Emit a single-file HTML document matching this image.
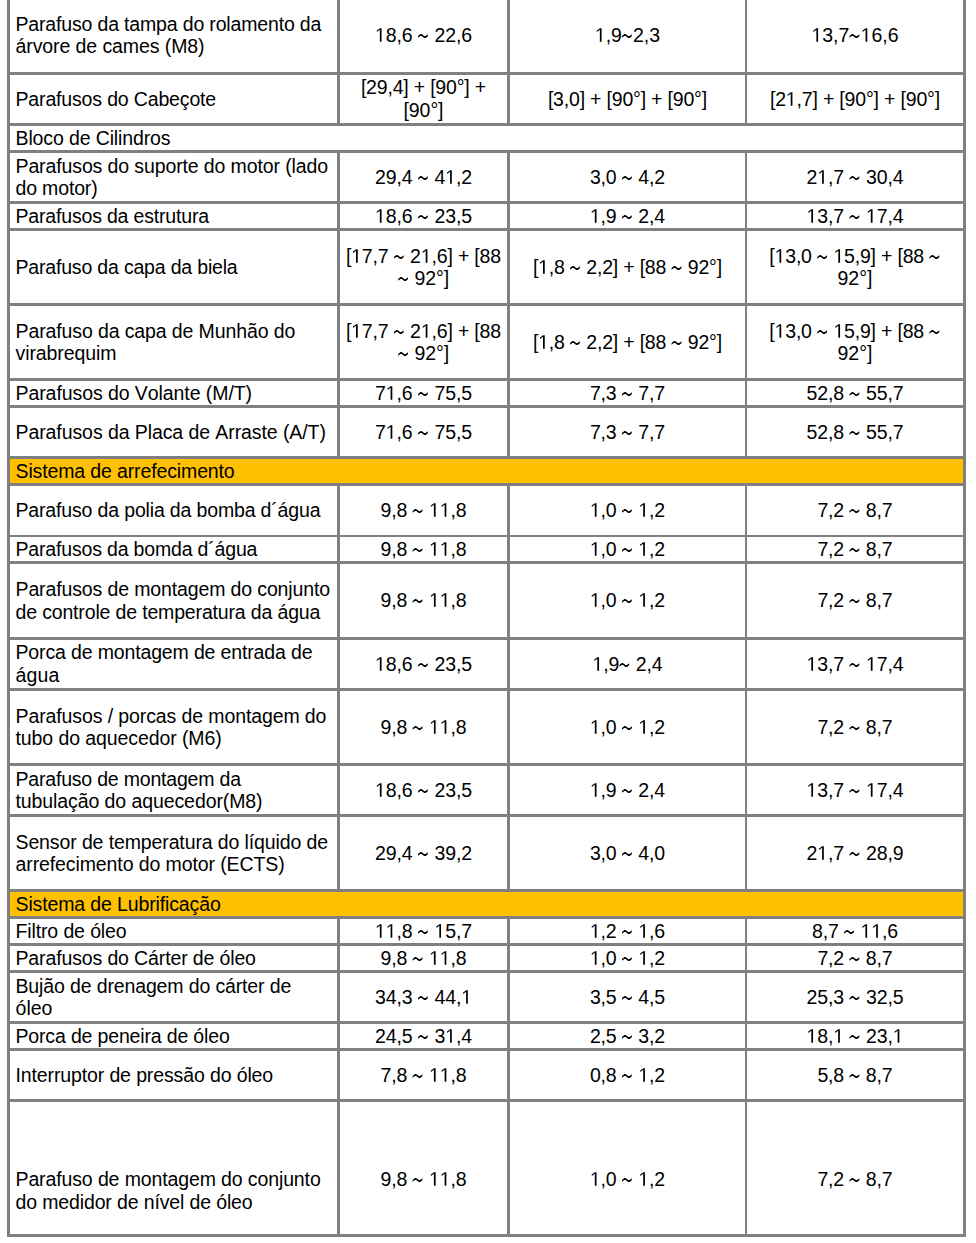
<!DOCTYPE html><html><head><meta charset="utf-8"><style>
html,body{margin:0;padding:0;background:#fff;}
body{width:976px;height:1243px;position:relative;overflow:hidden;font-family:"Liberation Sans",sans-serif;font-size:19.5px;line-height:22px;color:#000;}
.h,.v,.bg{position:absolute;}.h,.v{background:#808080;}
.t{position:absolute;white-space:nowrap;font-kerning:none;font-variant-ligatures:none;}
.c{text-align:center;}
.o{position:relative;color:transparent;}
.w{position:relative;color:transparent;}
.w::before{content:"";position:absolute;left:0;top:0;width:12px;height:22px;background:#000;clip-path:polygon(0.20px 11.88px,0.81px 11.42px,1.43px 10.89px,2.04px 10.40px,2.65px 10.08px,3.26px 10.01px,3.88px 10.19px,4.49px 10.58px,5.10px 11.10px,5.71px 11.62px,6.33px 12.01px,6.94px 12.19px,7.55px 12.12px,8.16px 11.80px,8.78px 11.31px,9.39px 10.78px,10.00px 10.32px,10.00px 12.22px,9.39px 12.68px,8.78px 13.21px,8.16px 13.70px,7.55px 14.02px,6.94px 14.09px,6.33px 13.91px,5.71px 13.52px,5.10px 13.00px,4.49px 12.48px,3.88px 12.09px,3.26px 11.91px,2.65px 11.98px,2.04px 12.30px,1.43px 12.79px,0.81px 13.32px,0.20px 13.78px);}
.o::before{content:"";position:absolute;left:0;top:0.2173em;width:0.5562em;height:0.688em;background:#000;clip-path:polygon(45.2% 100%,61.1% 100%,61.1% 0%,46.5% 0%,17.3% 16.25%,17.3% 28.3%,45.2% 12.2%);}
</style></head><body>
<div class="bg" style="left:10px;top:459px;width:953px;height:24px;background:#FFC000"></div>
<div class="bg" style="left:10px;top:892px;width:953px;height:24px;background:#FFC000"></div>
<div class="h" style="left:7px;top:72px;width:959px;height:3px"></div>
<div class="h" style="left:7px;top:123px;width:959px;height:3px"></div>
<div class="h" style="left:7px;top:150px;width:959px;height:3px"></div>
<div class="h" style="left:7px;top:201px;width:959px;height:3px"></div>
<div class="h" style="left:7px;top:228px;width:959px;height:3px"></div>
<div class="h" style="left:7px;top:303px;width:959px;height:3px"></div>
<div class="h" style="left:7px;top:378px;width:959px;height:3px"></div>
<div class="h" style="left:7px;top:405px;width:959px;height:3px"></div>
<div class="h" style="left:7px;top:456px;width:959px;height:3px"></div>
<div class="h" style="left:7px;top:483px;width:959px;height:3px"></div>
<div class="h" style="left:7px;top:535px;width:959px;height:2px"></div>
<div class="h" style="left:7px;top:561px;width:959px;height:3px"></div>
<div class="h" style="left:7px;top:637px;width:959px;height:3px"></div>
<div class="h" style="left:7px;top:688px;width:959px;height:3px"></div>
<div class="h" style="left:7px;top:763px;width:959px;height:3px"></div>
<div class="h" style="left:7px;top:814px;width:959px;height:3px"></div>
<div class="h" style="left:7px;top:889px;width:959px;height:3px"></div>
<div class="h" style="left:7px;top:916px;width:959px;height:3px"></div>
<div class="h" style="left:7px;top:943px;width:959px;height:3px"></div>
<div class="h" style="left:7px;top:970px;width:959px;height:3px"></div>
<div class="h" style="left:7px;top:1021px;width:959px;height:3px"></div>
<div class="h" style="left:7px;top:1048px;width:959px;height:3px"></div>
<div class="h" style="left:7px;top:1099px;width:959px;height:3px"></div>
<div class="h" style="left:7px;top:1234px;width:959px;height:3px"></div>
<div class="v" style="left:7px;top:0;width:3px;height:1237px"></div>
<div class="v" style="left:963px;top:0;width:3px;height:1237px"></div>
<div class="v" style="left:337px;top:0px;width:3px;height:75px"></div>
<div class="v" style="left:507px;top:0px;width:3px;height:75px"></div>
<div class="v" style="left:745px;top:0px;width:2px;height:75px"></div>
<div class="v" style="left:337px;top:72px;width:3px;height:54px"></div>
<div class="v" style="left:507px;top:72px;width:3px;height:54px"></div>
<div class="v" style="left:745px;top:72px;width:2px;height:54px"></div>
<div class="v" style="left:337px;top:150px;width:3px;height:54px"></div>
<div class="v" style="left:507px;top:150px;width:3px;height:54px"></div>
<div class="v" style="left:745px;top:150px;width:2px;height:54px"></div>
<div class="v" style="left:337px;top:201px;width:3px;height:30px"></div>
<div class="v" style="left:507px;top:201px;width:3px;height:30px"></div>
<div class="v" style="left:745px;top:201px;width:2px;height:30px"></div>
<div class="v" style="left:337px;top:228px;width:3px;height:78px"></div>
<div class="v" style="left:507px;top:228px;width:3px;height:78px"></div>
<div class="v" style="left:745px;top:228px;width:2px;height:78px"></div>
<div class="v" style="left:337px;top:303px;width:3px;height:78px"></div>
<div class="v" style="left:507px;top:303px;width:3px;height:78px"></div>
<div class="v" style="left:745px;top:303px;width:2px;height:78px"></div>
<div class="v" style="left:337px;top:378px;width:3px;height:30px"></div>
<div class="v" style="left:507px;top:378px;width:3px;height:30px"></div>
<div class="v" style="left:745px;top:378px;width:2px;height:30px"></div>
<div class="v" style="left:337px;top:405px;width:3px;height:54px"></div>
<div class="v" style="left:507px;top:405px;width:3px;height:54px"></div>
<div class="v" style="left:745px;top:405px;width:2px;height:54px"></div>
<div class="v" style="left:337px;top:483px;width:3px;height:54px"></div>
<div class="v" style="left:507px;top:483px;width:3px;height:54px"></div>
<div class="v" style="left:745px;top:483px;width:2px;height:54px"></div>
<div class="v" style="left:337px;top:535px;width:3px;height:29px"></div>
<div class="v" style="left:507px;top:535px;width:3px;height:29px"></div>
<div class="v" style="left:745px;top:535px;width:2px;height:29px"></div>
<div class="v" style="left:337px;top:561px;width:3px;height:79px"></div>
<div class="v" style="left:507px;top:561px;width:3px;height:79px"></div>
<div class="v" style="left:745px;top:561px;width:2px;height:79px"></div>
<div class="v" style="left:337px;top:637px;width:3px;height:54px"></div>
<div class="v" style="left:507px;top:637px;width:3px;height:54px"></div>
<div class="v" style="left:745px;top:637px;width:2px;height:54px"></div>
<div class="v" style="left:337px;top:688px;width:3px;height:78px"></div>
<div class="v" style="left:507px;top:688px;width:3px;height:78px"></div>
<div class="v" style="left:745px;top:688px;width:2px;height:78px"></div>
<div class="v" style="left:337px;top:763px;width:3px;height:54px"></div>
<div class="v" style="left:507px;top:763px;width:3px;height:54px"></div>
<div class="v" style="left:745px;top:763px;width:2px;height:54px"></div>
<div class="v" style="left:337px;top:814px;width:3px;height:78px"></div>
<div class="v" style="left:507px;top:814px;width:3px;height:78px"></div>
<div class="v" style="left:745px;top:814px;width:2px;height:78px"></div>
<div class="v" style="left:337px;top:916px;width:3px;height:30px"></div>
<div class="v" style="left:507px;top:916px;width:3px;height:30px"></div>
<div class="v" style="left:745px;top:916px;width:2px;height:30px"></div>
<div class="v" style="left:337px;top:943px;width:3px;height:30px"></div>
<div class="v" style="left:507px;top:943px;width:3px;height:30px"></div>
<div class="v" style="left:745px;top:943px;width:2px;height:30px"></div>
<div class="v" style="left:337px;top:970px;width:3px;height:54px"></div>
<div class="v" style="left:507px;top:970px;width:3px;height:54px"></div>
<div class="v" style="left:745px;top:970px;width:2px;height:54px"></div>
<div class="v" style="left:337px;top:1021px;width:3px;height:30px"></div>
<div class="v" style="left:507px;top:1021px;width:3px;height:30px"></div>
<div class="v" style="left:745px;top:1021px;width:2px;height:30px"></div>
<div class="v" style="left:337px;top:1048px;width:3px;height:54px"></div>
<div class="v" style="left:507px;top:1048px;width:3px;height:54px"></div>
<div class="v" style="left:745px;top:1048px;width:2px;height:54px"></div>
<div class="v" style="left:337px;top:1099px;width:3px;height:138px"></div>
<div class="v" style="left:507px;top:1099px;width:3px;height:138px"></div>
<div class="v" style="left:745px;top:1099px;width:2px;height:138px"></div>
<div class="t" style="left:15.5px;top:13px;letter-spacing:-0.164px">Parafuso da tampa do rolamento da</div>
<div class="t" style="left:15.5px;top:35px;letter-spacing:-0.086px">árvore de cames (M8)</div>
<div class="t c" style="left:340px;width:167px;top:24px;letter-spacing:-0.103px;text-indent:-0.103px"><span class="o">1</span>8,6 <span class="w">~</span> 22,6</div>
<div class="t c" style="left:510px;width:235px;top:24px;letter-spacing:-0.086px;text-indent:-0.086px"><span class="o">1</span>,9<span class="w">~</span>2,3</div>
<div class="t c" style="left:747px;width:216px;top:24px;letter-spacing:-0.033px;text-indent:-0.033px"><span class="o">1</span>3,7<span class="w">~</span><span class="o">1</span>6,6</div>
<div class="t" style="left:15.5px;top:88px;letter-spacing:-0.155px">Parafusos do Cabeçote</div>
<div class="t c" style="left:340px;width:167px;top:76px;letter-spacing:-0.196px;text-indent:-0.196px">[29,4] + [90°] +</div>
<div class="t c" style="left:340px;width:167px;top:99px;letter-spacing:-0.065px;text-indent:-0.065px">[90°]</div>
<div class="t c" style="left:510px;width:235px;top:88px;letter-spacing:-0.192px;text-indent:-0.192px">[3,0] + [90°] + [90°]</div>
<div class="t c" style="left:747px;width:216px;top:88px;letter-spacing:-0.176px;text-indent:-0.176px">[2<span class="o">1</span>,7] + [90°] + [90°]</div>
<div class="t" style="left:15.5px;top:127px;letter-spacing:-0.123px">Bloco de Cilindros</div>
<div class="t" style="left:15.5px;top:155px;letter-spacing:-0.116px">Parafusos do suporte do motor (lado</div>
<div class="t" style="left:15.5px;top:177px;letter-spacing:-0.161px">do motor)</div>
<div class="t c" style="left:340px;width:167px;top:166px;letter-spacing:-0.103px;text-indent:-0.103px">29,4 <span class="w">~</span> 4<span class="o">1</span>,2</div>
<div class="t c" style="left:510px;width:235px;top:166px;letter-spacing:-0.160px;text-indent:-0.160px">3,0 <span class="w">~</span> 4,2</div>
<div class="t c" style="left:747px;width:216px;top:166px;letter-spacing:-0.103px;text-indent:-0.103px">2<span class="o">1</span>,7 <span class="w">~</span> 30,4</div>
<div class="t" style="left:15.5px;top:205px;letter-spacing:-0.177px">Parafusos da estrutura</div>
<div class="t c" style="left:340px;width:167px;top:205px;letter-spacing:-0.103px;text-indent:-0.103px"><span class="o">1</span>8,6 <span class="w">~</span> 23,5</div>
<div class="t c" style="left:510px;width:235px;top:205px;letter-spacing:-0.160px;text-indent:-0.160px"><span class="o">1</span>,9 <span class="w">~</span> 2,4</div>
<div class="t c" style="left:747px;width:216px;top:205px;letter-spacing:-0.103px;text-indent:-0.103px"><span class="o">1</span>3,7 <span class="w">~</span> <span class="o">1</span>7,4</div>
<div class="t" style="left:15.5px;top:256px;letter-spacing:-0.182px">Parafuso da capa da biela</div>
<div class="t c" style="left:340px;width:167px;top:245px;letter-spacing:-0.173px;text-indent:-0.173px">[<span class="o">1</span>7,7 <span class="w">~</span> 2<span class="o">1</span>,6] + [88</div>
<div class="t c" style="left:340px;width:167px;top:267px;letter-spacing:-0.119px;text-indent:-0.119px"><span class="w">~</span> 92°]</div>
<div class="t c" style="left:510px;width:235px;top:256px;letter-spacing:-0.197px;text-indent:-0.197px">[<span class="o">1</span>,8 <span class="w">~</span> 2,2] + [88 <span class="w">~</span> 92°]</div>
<div class="t c" style="left:747px;width:216px;top:245px;letter-spacing:-0.195px;text-indent:-0.195px">[<span class="o">1</span>3,0 <span class="w">~</span> <span class="o">1</span>5,9] + [88 <span class="w">~</span></div>
<div class="t c" style="left:747px;width:216px;top:267px;letter-spacing:0.024px;text-indent:0.024px">92°]</div>
<div class="t" style="left:15.5px;top:320px;letter-spacing:-0.113px">Parafuso da capa de Munhão do</div>
<div class="t" style="left:15.5px;top:342px;letter-spacing:-0.079px">virabrequim</div>
<div class="t c" style="left:340px;width:167px;top:320px;letter-spacing:-0.173px;text-indent:-0.173px">[<span class="o">1</span>7,7 <span class="w">~</span> 2<span class="o">1</span>,6] + [88</div>
<div class="t c" style="left:340px;width:167px;top:342px;letter-spacing:-0.119px;text-indent:-0.119px"><span class="w">~</span> 92°]</div>
<div class="t c" style="left:510px;width:235px;top:331px;letter-spacing:-0.197px;text-indent:-0.197px">[<span class="o">1</span>,8 <span class="w">~</span> 2,2] + [88 <span class="w">~</span> 92°]</div>
<div class="t c" style="left:747px;width:216px;top:320px;letter-spacing:-0.195px;text-indent:-0.195px">[<span class="o">1</span>3,0 <span class="w">~</span> <span class="o">1</span>5,9] + [88 <span class="w">~</span></div>
<div class="t c" style="left:747px;width:216px;top:342px;letter-spacing:0.024px;text-indent:0.024px">92°]</div>
<div class="t" style="left:15.5px;top:382px;letter-spacing:-0.074px">Parafusos do Volante (M/T)</div>
<div class="t c" style="left:340px;width:167px;top:382px;letter-spacing:-0.103px;text-indent:-0.103px">7<span class="o">1</span>,6 <span class="w">~</span> 75,5</div>
<div class="t c" style="left:510px;width:235px;top:382px;letter-spacing:-0.160px;text-indent:-0.160px">7,3 <span class="w">~</span> 7,7</div>
<div class="t c" style="left:747px;width:216px;top:382px;letter-spacing:-0.103px;text-indent:-0.103px">52,8 <span class="w">~</span> 55,7</div>
<div class="t" style="left:15.5px;top:421px;letter-spacing:-0.083px">Parafusos da Placa de Arraste (A/T)</div>
<div class="t c" style="left:340px;width:167px;top:421px;letter-spacing:-0.103px;text-indent:-0.103px">7<span class="o">1</span>,6 <span class="w">~</span> 75,5</div>
<div class="t c" style="left:510px;width:235px;top:421px;letter-spacing:-0.160px;text-indent:-0.160px">7,3 <span class="w">~</span> 7,7</div>
<div class="t c" style="left:747px;width:216px;top:421px;letter-spacing:-0.103px;text-indent:-0.103px">52,8 <span class="w">~</span> 55,7</div>
<div class="t" style="left:15.5px;top:460px;letter-spacing:-0.130px">Sistema de arrefecimento</div>
<div class="t" style="left:15.5px;top:499px;letter-spacing:-0.157px">Parafuso da polia da bomba d´água</div>
<div class="t c" style="left:340px;width:167px;top:499px;letter-spacing:-0.128px;text-indent:-0.128px">9,8 <span class="w">~</span> <span class="o">1</span><span class="o">1</span>,8</div>
<div class="t c" style="left:510px;width:235px;top:499px;letter-spacing:-0.160px;text-indent:-0.160px"><span class="o">1</span>,0 <span class="w">~</span> <span class="o">1</span>,2</div>
<div class="t c" style="left:747px;width:216px;top:499px;letter-spacing:-0.160px;text-indent:-0.160px">7,2 <span class="w">~</span> 8,7</div>
<div class="t" style="left:15.5px;top:538px;letter-spacing:-0.174px">Parafusos da bomda d´água</div>
<div class="t c" style="left:340px;width:167px;top:538px;letter-spacing:-0.128px;text-indent:-0.128px">9,8 <span class="w">~</span> <span class="o">1</span><span class="o">1</span>,8</div>
<div class="t c" style="left:510px;width:235px;top:538px;letter-spacing:-0.160px;text-indent:-0.160px"><span class="o">1</span>,0 <span class="w">~</span> <span class="o">1</span>,2</div>
<div class="t c" style="left:747px;width:216px;top:538px;letter-spacing:-0.160px;text-indent:-0.160px">7,2 <span class="w">~</span> 8,7</div>
<div class="t" style="left:15.5px;top:578px;letter-spacing:-0.128px">Parafusos de montagem do conjunto</div>
<div class="t" style="left:15.5px;top:601px;letter-spacing:-0.157px">de controle de temperatura da água</div>
<div class="t c" style="left:340px;width:167px;top:589px;letter-spacing:-0.128px;text-indent:-0.128px">9,8 <span class="w">~</span> <span class="o">1</span><span class="o">1</span>,8</div>
<div class="t c" style="left:510px;width:235px;top:589px;letter-spacing:-0.160px;text-indent:-0.160px"><span class="o">1</span>,0 <span class="w">~</span> <span class="o">1</span>,2</div>
<div class="t c" style="left:747px;width:216px;top:589px;letter-spacing:-0.160px;text-indent:-0.160px">7,2 <span class="w">~</span> 8,7</div>
<div class="t" style="left:15.5px;top:641px;letter-spacing:-0.144px">Porca de montagem de entrada de</div>
<div class="t" style="left:15.5px;top:664px;letter-spacing:0.155px">água</div>
<div class="t c" style="left:340px;width:167px;top:653px;letter-spacing:-0.103px;text-indent:-0.103px"><span class="o">1</span>8,6 <span class="w">~</span> 23,5</div>
<div class="t c" style="left:510px;width:235px;top:653px;letter-spacing:-0.128px;text-indent:-0.128px"><span class="o">1</span>,9<span class="w">~</span> 2,4</div>
<div class="t c" style="left:747px;width:216px;top:653px;letter-spacing:-0.103px;text-indent:-0.103px"><span class="o">1</span>3,7 <span class="w">~</span> <span class="o">1</span>7,4</div>
<div class="t" style="left:15.5px;top:705px;letter-spacing:-0.106px">Parafusos / porcas de montagem do</div>
<div class="t" style="left:15.5px;top:727px;letter-spacing:-0.089px">tubo do aquecedor (M6)</div>
<div class="t c" style="left:340px;width:167px;top:716px;letter-spacing:-0.128px;text-indent:-0.128px">9,8 <span class="w">~</span> <span class="o">1</span><span class="o">1</span>,8</div>
<div class="t c" style="left:510px;width:235px;top:716px;letter-spacing:-0.160px;text-indent:-0.160px"><span class="o">1</span>,0 <span class="w">~</span> <span class="o">1</span>,2</div>
<div class="t c" style="left:747px;width:216px;top:716px;letter-spacing:-0.160px;text-indent:-0.160px">7,2 <span class="w">~</span> 8,7</div>
<div class="t" style="left:15.5px;top:768px;letter-spacing:-0.194px">Parafuso de montagem da</div>
<div class="t" style="left:15.5px;top:790px;letter-spacing:-0.089px">tubulação do aquecedor(M8)</div>
<div class="t c" style="left:340px;width:167px;top:779px;letter-spacing:-0.103px;text-indent:-0.103px"><span class="o">1</span>8,6 <span class="w">~</span> 23,5</div>
<div class="t c" style="left:510px;width:235px;top:779px;letter-spacing:-0.160px;text-indent:-0.160px"><span class="o">1</span>,9 <span class="w">~</span> 2,4</div>
<div class="t c" style="left:747px;width:216px;top:779px;letter-spacing:-0.103px;text-indent:-0.103px"><span class="o">1</span>3,7 <span class="w">~</span> <span class="o">1</span>7,4</div>
<div class="t" style="left:15.5px;top:831px;letter-spacing:-0.117px">Sensor de temperatura do líquido de</div>
<div class="t" style="left:15.5px;top:853px;letter-spacing:-0.099px">arrefecimento do motor (ECTS)</div>
<div class="t c" style="left:340px;width:167px;top:842px;letter-spacing:-0.103px;text-indent:-0.103px">29,4 <span class="w">~</span> 39,2</div>
<div class="t c" style="left:510px;width:235px;top:842px;letter-spacing:-0.160px;text-indent:-0.160px">3,0 <span class="w">~</span> 4,0</div>
<div class="t c" style="left:747px;width:216px;top:842px;letter-spacing:-0.103px;text-indent:-0.103px">2<span class="o">1</span>,7 <span class="w">~</span> 28,9</div>
<div class="t" style="left:15.5px;top:893px;letter-spacing:-0.130px">Sistema de Lubrificação</div>
<div class="t" style="left:15.5px;top:920px;letter-spacing:-0.123px">Filtro de óleo</div>
<div class="t c" style="left:340px;width:167px;top:920px;letter-spacing:-0.103px;text-indent:-0.103px"><span class="o">1</span><span class="o">1</span>,8 <span class="w">~</span> <span class="o">1</span>5,7</div>
<div class="t c" style="left:510px;width:235px;top:920px;letter-spacing:-0.160px;text-indent:-0.160px"><span class="o">1</span>,2 <span class="w">~</span> <span class="o">1</span>,6</div>
<div class="t c" style="left:747px;width:216px;top:920px;letter-spacing:-0.128px;text-indent:-0.128px">8,7 <span class="w">~</span> <span class="o">1</span><span class="o">1</span>,6</div>
<div class="t" style="left:15.5px;top:947px;letter-spacing:-0.132px">Parafusos do Cárter de óleo</div>
<div class="t c" style="left:340px;width:167px;top:947px;letter-spacing:-0.128px;text-indent:-0.128px">9,8 <span class="w">~</span> <span class="o">1</span><span class="o">1</span>,8</div>
<div class="t c" style="left:510px;width:235px;top:947px;letter-spacing:-0.160px;text-indent:-0.160px"><span class="o">1</span>,0 <span class="w">~</span> <span class="o">1</span>,2</div>
<div class="t c" style="left:747px;width:216px;top:947px;letter-spacing:-0.160px;text-indent:-0.160px">7,2 <span class="w">~</span> 8,7</div>
<div class="t" style="left:15.5px;top:975px;letter-spacing:-0.135px">Bujão de drenagem do cárter de</div>
<div class="t" style="left:15.5px;top:997px;letter-spacing:0.033px">óleo</div>
<div class="t c" style="left:340px;width:167px;top:986px;letter-spacing:-0.103px;text-indent:-0.103px">34,3 <span class="w">~</span> 44,<span class="o">1</span></div>
<div class="t c" style="left:510px;width:235px;top:986px;letter-spacing:-0.160px;text-indent:-0.160px">3,5 <span class="w">~</span> 4,5</div>
<div class="t c" style="left:747px;width:216px;top:986px;letter-spacing:-0.103px;text-indent:-0.103px">25,3 <span class="w">~</span> 32,5</div>
<div class="t" style="left:15.5px;top:1025px;letter-spacing:-0.160px">Porca de peneira de óleo</div>
<div class="t c" style="left:340px;width:167px;top:1025px;letter-spacing:-0.103px;text-indent:-0.103px">24,5 <span class="w">~</span> 3<span class="o">1</span>,4</div>
<div class="t c" style="left:510px;width:235px;top:1025px;letter-spacing:-0.160px;text-indent:-0.160px">2,5 <span class="w">~</span> 3,2</div>
<div class="t c" style="left:747px;width:216px;top:1025px;letter-spacing:-0.103px;text-indent:-0.103px"><span class="o">1</span>8,<span class="o">1</span> <span class="w">~</span> 23,<span class="o">1</span></div>
<div class="t" style="left:15.5px;top:1064px;letter-spacing:-0.123px">Interruptor de pressão do óleo</div>
<div class="t c" style="left:340px;width:167px;top:1064px;letter-spacing:-0.128px;text-indent:-0.128px">7,8 <span class="w">~</span> <span class="o">1</span><span class="o">1</span>,8</div>
<div class="t c" style="left:510px;width:235px;top:1064px;letter-spacing:-0.160px;text-indent:-0.160px">0,8 <span class="w">~</span> <span class="o">1</span>,2</div>
<div class="t c" style="left:747px;width:216px;top:1064px;letter-spacing:-0.160px;text-indent:-0.160px">5,8 <span class="w">~</span> 8,7</div>
<div class="t" style="left:15.5px;top:1168px;letter-spacing:-0.120px">Parafuso de montagem do conjunto</div>
<div class="t" style="left:15.5px;top:1191px;letter-spacing:-0.135px">do medidor de nível de óleo</div>
<div class="t c" style="left:340px;width:167px;top:1168px;letter-spacing:-0.128px;text-indent:-0.128px">9,8 <span class="w">~</span> <span class="o">1</span><span class="o">1</span>,8</div>
<div class="t c" style="left:510px;width:235px;top:1168px;letter-spacing:-0.160px;text-indent:-0.160px"><span class="o">1</span>,0 <span class="w">~</span> <span class="o">1</span>,2</div>
<div class="t c" style="left:747px;width:216px;top:1168px;letter-spacing:-0.160px;text-indent:-0.160px">7,2 <span class="w">~</span> 8,7</div>
</body></html>
